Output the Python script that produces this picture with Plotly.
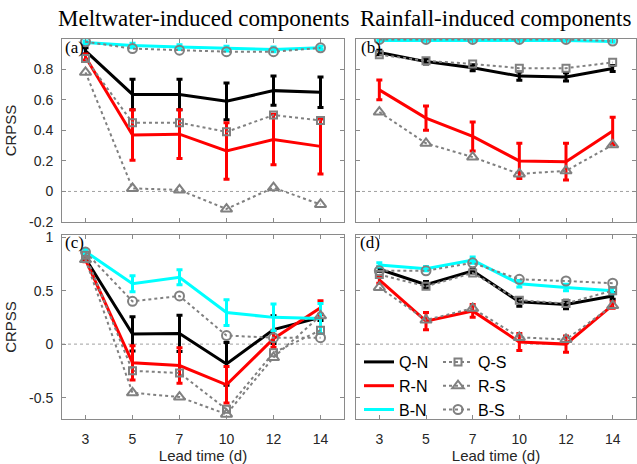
import plotly.graph_objects as go

lead = ["3", "5", "7", "10", "12", "14"]

# Panel (a) Meltwater, top
QN_a = [0.92, 0.635, 0.635, 0.59, 0.66, 0.65]
QN_a_err = [0.02, 0.10, 0.10, 0.12, 0.095, 0.10]
RN_a = [0.88, 0.37, 0.375, 0.265, 0.34, 0.295]
RN_a_err = [0.02, 0.165, 0.16, 0.185, 0.165, 0.18]
BN_a = [0.975, 0.955, 0.945, 0.935, 0.93, 0.94]
BN_a_err = [0.01, 0.015, 0.015, 0.015, 0.015, 0.01]
QS_a = [0.87, 0.45, 0.45, 0.39, 0.50, 0.465]
RS_a = [0.78, 0.02, 0.01, -0.115, 0.025, -0.085]
BS_a = [0.98, 0.935, 0.925, 0.915, 0.915, 0.94]

# Panel (b) Rainfall, top
QN_b = [0.91, 0.85, 0.81, 0.755, 0.75, 0.805]
QN_b_err = [0.015, 0.015, 0.02, 0.027, 0.027, 0.02]
RN_b = [0.665, 0.48, 0.36, 0.20, 0.195, 0.395]
RN_b_err = [0.065, 0.08, 0.095, 0.115, 0.12, 0.09]
BN_b = [0.988, 0.988, 0.988, 0.988, 0.988, 0.982]
BN_b_err = [0.005, 0.005, 0.005, 0.005, 0.005, 0.005]
QS_b = [0.895, 0.855, 0.835, 0.807, 0.807, 0.845]
RS_b = [0.52, 0.315, 0.225, 0.115, 0.135, 0.305]
BS_b = [0.995, 0.995, 0.995, 0.995, 0.995, 0.985]

# Panel (c) Meltwater, bottom
QN_c = [0.80, 0.095, 0.10, -0.185, 0.135, 0.25]
QN_c_err = [0.02, 0.16, 0.17, 0.2, 0.13, 0.03]
RN_c = [0.79, -0.175, -0.2, -0.38, 0.05, 0.34]
RN_c_err = [0.02, 0.16, 0.165, 0.17, 0.08, 0.065]
BN_c = [0.865, 0.565, 0.625, 0.295, 0.25, 0.24]
BN_c_err = [0.02, 0.075, 0.07, 0.12, 0.125, 0.14]
QS_c = [0.83, -0.25, -0.27, -0.61, -0.08, 0.13]
RS_c = [0.79, -0.455, -0.495, -0.655, -0.125, 0.265]
BS_c = [0.86, 0.40, 0.45, 0.08, 0.06, 0.06]

# Panel (d) Rainfall, bottom
QN_d = [0.70, 0.555, 0.685, 0.395, 0.37, 0.45]
QN_d_err = [0.02, 0.03, 0.02, 0.04, 0.04, 0.03]
RN_d = [0.60, 0.215, 0.31, 0.02, 0.0, 0.365]
RN_d_err = [0.03, 0.08, 0.06, 0.08, 0.075, 0.03]
BN_d = [0.74, 0.705, 0.785, 0.565, 0.53, 0.50]
BN_d_err = [0.02, 0.02, 0.03, 0.03, 0.03, 0.03]
QS_d = [0.65, 0.54, 0.665, 0.41, 0.38, 0.50]
RS_d = [0.53, 0.225, 0.335, 0.063, 0.044, 0.36]
BS_d = [0.685, 0.685, 0.76, 0.606, 0.59, 0.569]

panel_titles = ["Meltwater-induced components", "Rainfall-induced components"]
panel_labels = ["(a)", "(b)", "(c)", "(d)"]

W, H = 637, 464
BLACK, RED, CYAN, GRAY = "#000000", "#ff0000", "#00ffff", "#808080"
AXC = "#8a8a8a"
TXT = "#262626"

panels = [
    ("x", "y", QN_a, QN_a_err, RN_a, RN_a_err, BN_a, BN_a_err, QS_a, RS_a, BS_a),
    ("x2", "y2", QN_b, QN_b_err, RN_b, RN_b_err, BN_b, BN_b_err, QS_b, RS_b, BS_b),
    ("x3", "y3", QN_c, QN_c_err, RN_c, RN_c_err, BN_c, BN_c_err, QS_c, RS_c, BS_c),
    ("x4", "y4", QN_d, QN_d_err, RN_d, RN_d_err, BN_d, BN_d_err, QS_d, RS_d, BS_d),
]

fig = go.Figure()
for i, (xa, ya, qn, qne, rn, rne, bn, bne, qs, rs, bs) in enumerate(panels):
    show = i == 3
    for name, vals, err, col in [("Q-N", qn, qne, BLACK), ("R-N", rn, rne, RED), ("B-N", bn, bne, CYAN)]:
        fig.add_trace(go.Scatter(
            x=lead, y=vals, mode="lines", name=name, xaxis=xa, yaxis=ya,
            line=dict(color=col, width=3),
            error_y=dict(type="data", array=err, color=col, thickness=3, width=3),
            showlegend=show, legend="legend",
        ))
    for name, vals, sym, size in [("Q-S", qs, "square-open", 7), ("R-S", rs, "triangle-up-open", 10), ("B-S", bs, "circle-open", 9)]:
        fig.add_trace(go.Scatter(
            x=lead, y=vals, mode="lines+markers", name=name, xaxis=xa, yaxis=ya,
            line=dict(color=GRAY, width=2, dash="dot"),
            marker=dict(symbol=sym, size=size, color=GRAY, line=dict(width=2, color=GRAY)),
            showlegend=show, legend="legend2",
        ))

xl = [62 / W, 344 / W]
xr = [356 / W, 636 / W]
yt = [1 - 222 / H, 1 - 39 / H]
yb = [1 - 419 / H, 1 - 235 / H]

tickfont = dict(family="Liberation Sans, Arial", size=14, color=TXT)
common = dict(showline=True, linecolor=AXC, linewidth=1, mirror="ticks", ticks="inside",
              ticklen=4, tickcolor=AXC, showgrid=False, zeroline=False, tickfont=tickfont,
              automargin=False)

def xaxis(dom, anchor, labels):
    d = dict(common)
    d.update(domain=dom, anchor=anchor, type="category", range=[-0.5, 5.5],
             showticklabels=labels, ticklabelstandoff=7)
    if labels:
        d["title"] = dict(text="Lead time (d)", font=dict(family="Liberation Sans, Arial", size=15, color=TXT), standoff=4)
    return d

def yaxis(dom, anchor, rng, tv, labels, title):
    d = dict(common)
    d.update(domain=dom, anchor=anchor, range=rng, tickvals=tv,
             ticktext=[("%g" % v) for v in tv], showticklabels=labels, ticklabelstandoff=5)
    if title:
        d["title"] = dict(text="CRPSS", font=dict(family="Liberation Sans, Arial", size=15, color=TXT), standoff=8)
    return d

tv_top = [-0.2, 0, 0.2, 0.4, 0.6, 0.8]
tv_bot = [-0.5, 0, 0.5, 1]
legfont = dict(family="Liberation Sans, Arial", size=16, color="#000")
fig.update_layout(
    width=W, height=H, margin=dict(l=0, r=0, t=0, b=0),
    paper_bgcolor="white", plot_bgcolor="white",
    xaxis=xaxis(xl, "y", False), yaxis=yaxis(yt, "x", [-0.2, 0.998], tv_top, True, True),
    xaxis2=xaxis(xr, "y2", False), yaxis2=yaxis(yt, "x2", [-0.2, 0.998], tv_top, False, False),
    xaxis3=xaxis(xl, "y3", True), yaxis3=yaxis(yb, "x3", [-0.7, 1.02], tv_bot, True, True),
    xaxis4=xaxis(xr, "y4", True), yaxis4=yaxis(yb, "x4", [-0.7, 1.02], tv_bot, False, False),
    legend=dict(x=359 / W, y=1 - 345 / H, xanchor="left", yanchor="top",
                bgcolor="rgba(0,0,0,0)", font=legfont, itemwidth=30, traceorder="normal"),
    legend2=dict(x=438 / W, y=1 - 345 / H, xanchor="left", yanchor="top",
                 bgcolor="rgba(0,0,0,0)", font=legfont, itemwidth=30, traceorder="normal"),
)

# zero reference lines
for xa, ya in [("x", "y"), ("x2", "y2"), ("x3", "y3"), ("x4", "y4")]:
    fig.add_shape(type="line", xref=xa + " domain", yref=ya, x0=0, x1=1, y0=0, y1=0,
                  line=dict(color="#a0a0a0", width=1, dash="dot"), layer="below")

# column titles
for cx, t in zip([(62 + 344) / 2 / W, (356 + 636) / 2 / W], panel_titles):
    fig.add_annotation(text=t, xref="paper", yref="paper", x=cx, y=1 - 18 / H,
                       showarrow=False, xanchor="center", yanchor="middle",
                       font=dict(family="Liberation Serif, Times New Roman", size=23, color="#000"))

# panel labels
for (px, py), t in zip([(63, 48), (359, 48), (63, 243), (358, 243)], panel_labels):
    fig.add_annotation(text=t, xref="paper", yref="paper", x=px / W, y=1 - py / H,
                       showarrow=False, xanchor="left", yanchor="middle",
                       font=dict(family="Liberation Serif, Times New Roman", size=17, color="#000"))

fig.write_html("out.html")
